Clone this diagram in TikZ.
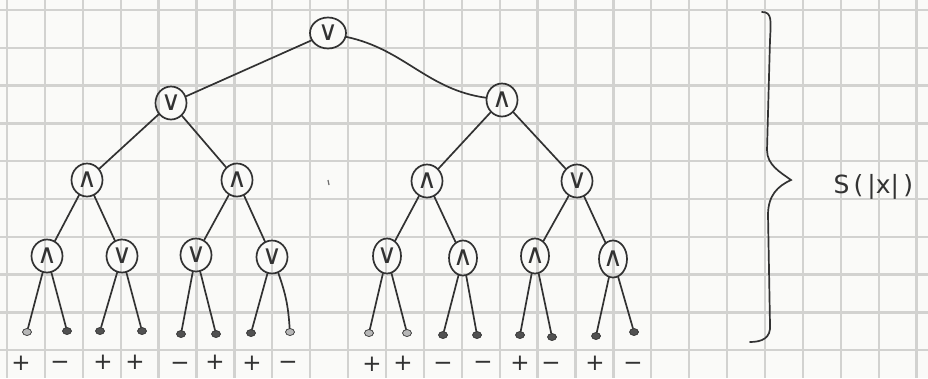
\documentclass[tikz,border=0pt]{standalone}
\usepackage{fontspec}
\usetikzlibrary{shapes.geometric}
\newfontfamily\symfont{DejaVu Sans}
\newfontfamily\handfont{DejaVu Sans}
\definecolor{paper}{RGB}{250,250,248}
\definecolor{gridline}{RGB}{210,210,208}
\definecolor{pencil}{RGB}{50,50,50}
\tikzset{
  op/.style={draw=pencil, ellipse, line width=1.7pt, inner sep=0pt,
    minimum width=31pt, minimum height=33pt, text=pencil,
    text height=14pt, text depth=0pt,
    font=\symfont\fontsize{27}{27}\selectfont},
  leafdot/.style={ellipse, fill=pencil!85, draw=pencil, line width=0.7pt,
    minimum width=9pt, minimum height=7pt, inner sep=0pt},
  paledot/.style={leafdot, fill=pencil!35},
  sign/.style={text=pencil, font=\symfont\fontsize{23}{23}\selectfont,
    inner sep=0pt, text height=12pt, text depth=0pt},
  edge/.style={draw=pencil, line width=1.7pt, line cap=round},
}
\begin{document}
\begin{tikzpicture}[x=1pt,y=-1pt]
  % sheet of squared paper
  \fill[paper] (0,0) rectangle (928,378);
  \useasboundingbox (0,0) rectangle (928,378);
  \foreach \k in {0,...,24}
    \draw[gridline, line width=2.3pt] ({7+37.9*\k},0) -- ({7+37.9*\k},378);
  \foreach \k in {0,...,9}
    \draw[gridline, line width=2.3pt] (0,{10+37.8*\k}) -- (928,{10+37.8*\k});

  % operator nodes
  \node[op, minimum width=36pt, minimum height=31pt] (r) at (328,33) {∨};
  \node[op] (a) at (171,103) {∨};
  \node[op] (b) at (502,100) {∧};
  \node[op] (a1) at (87,180) {∧};
  \node[op] (a2) at (237,180) {∧};
  \node[op] (b1) at (427,181) {∧};
  \node[op] (b2) at (577,181) {∨};
  \node[op] (c1) at (47,256) {∧};
  \node[op] (c2) at (122,256) {∨};
  \node[op] (c3) at (196,255) {∨};
  \node[op] (c4) at (272,257) {∨};
  \node[op, minimum width=26pt, minimum height=35pt] (c5) at (387,256) {∨};
  \node[op, minimum width=26pt, minimum height=35pt] (c6) at (463,258) {∧};
  \node[op, minimum width=26pt, minimum height=35pt] (c7) at (535,256) {∧};
  \node[op, minimum width=28pt, minimum height=37pt] (c8) at (613,259) {∧};

  % leaves
  \node[paledot] (l1) at (27,332) {};
  \node[leafdot] (l2) at (67,331) {};
  \node[leafdot] (l3) at (100,331) {};
  \node[leafdot] (l4) at (142,331) {};
  \node[leafdot] (l5) at (181,334) {};
  \node[leafdot] (l6) at (216,334) {};
  \node[leafdot] (l7) at (251,333) {};
  \node[paledot] (l8) at (290,332) {};
  \node[paledot] (l9) at (369,333) {};
  \node[paledot] (l10) at (407,333) {};
  \node[leafdot] (l11) at (443,335) {};
  \node[leafdot] (l12) at (477,335) {};
  \node[leafdot] (l13) at (520,335) {};
  \node[leafdot] (l14) at (552,337) {};
  \node[leafdot] (l15) at (596,336) {};
  \node[leafdot] (l16) at (634,332) {};

  % tree edges
  \draw[edge] (r) -- (a);
  \draw[edge] (r) to[out=-12, in=172] (b);
  \draw[edge] (a) -- (a1);
  \draw[edge] (a) -- (a2);
  \draw[edge] (b) -- (b1);
  \draw[edge] (b) -- (b2);
  \draw[edge] (a1) -- (c1);
  \draw[edge] (a1) -- (c2);
  \draw[edge] (a2) -- (c3);
  \draw[edge] (a2) -- (c4);
  \draw[edge] (b1) -- (c5);
  \draw[edge] (b1) -- (c6);
  \draw[edge] (b2) -- (c7);
  \draw[edge] (b2) -- (c8);
  \draw[edge] (c1) -- (l1);   \draw[edge] (c1) -- (l2);
  \draw[edge] (c2) -- (l3);   \draw[edge] (c2) -- (l4);
  \draw[edge] (c3) -- (l5);   \draw[edge] (c3) -- (l6);
  \draw[edge] (c4) -- (l7);   \draw[edge] (c4) to[bend left=8] (l8);
  \draw[edge] (c5) -- (l9);   \draw[edge] (c5) -- (l10);
  \draw[edge] (c6) -- (l11);  \draw[edge] (c6) -- (l12);
  \draw[edge] (c7) -- (l13);  \draw[edge] (c7) -- (l14);
  \draw[edge] (c8) -- (l15);  \draw[edge] (c8) -- (l16);

  % leaf signs
  \node[sign] (s1) at (21,364) {+};
  \node[sign] (s2) at (60,363) {−};
  \node[sign] (s3) at (103,363) {+};
  \node[sign] (s4) at (135,363) {+};
  \node[sign] (s5) at (180,364) {−};
  \node[sign] (s6) at (215,363) {+};
  \node[sign] (s7) at (252,364) {+};
  \node[sign] (s8) at (288,363) {−};
  \node[sign] (s9) at (372,365) {+};
  \node[sign] (s10) at (403,364) {+};
  \node[sign] (s11) at (443,364) {−};
  \node[sign] (s12) at (483,363) {−};
  \node[sign] (s13) at (520,364) {+};
  \node[sign] (s14) at (551,364) {−};
  \node[sign] (s15) at (595,364) {+};
  \node[sign] (s16) at (633,364) {−};

  % stray pencil mark
  \draw[pencil!70, line width=1.2pt] (328,180) -- (329,185);

  % brace over the whole height
  \coordinate (bt) at (762,12);
  \coordinate (bm) at (791,180);
  \coordinate (bb) at (750,342);
  \draw[edge] (bt) .. controls (772,12) and (771,20) .. (770,40)
    -- (767,150) .. controls (767,165) and (780,172) .. (bm)
    .. controls (778,186) and (768,195) .. (768,215)
    -- (770,325) .. controls (771,338) and (762,342) .. (bb);
  \node[text=pencil, font=\handfont\fontsize{25}{25}\selectfont, anchor=west]
    (lab) at (830,187) {S\,(\,|x|\,)};
\end{tikzpicture}
\end{document}
